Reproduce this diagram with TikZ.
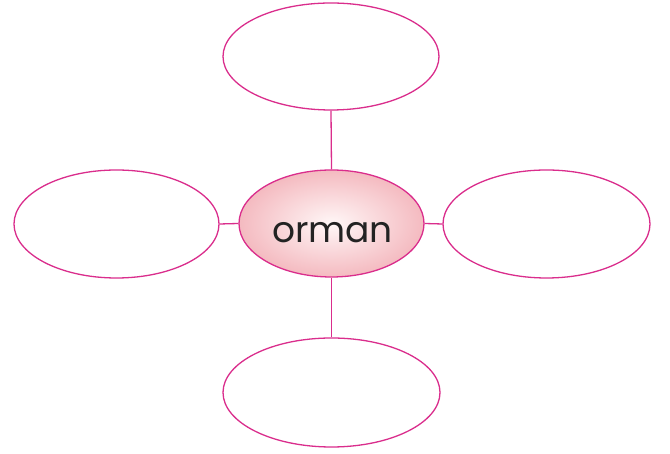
\documentclass[tikz,border=0pt]{standalone}
\usepackage{fontspec}
\setmainfont{Poppins}
\usetikzlibrary{shapes.geometric}
\definecolor{linepink}{RGB}{218,45,140}
\definecolor{fillout}{RGB}{244,186,192}
\definecolor{fillin}{RGB}{255,247,247}
\definecolor{txt}{RGB}{35,35,35}
\tikzset{
  bubble/.style={ellipse, draw=linepink, line width=1.3pt, fill=white, inner sep=0pt},
  hub/.style={ellipse, draw=linepink, line width=1.3pt, inner sep=0pt,
    inner color=fillin, outer color=fillout},
  link/.style={draw=linepink, line width=1.3pt},
  hubtext/.style={inner sep=0pt, text=txt, font=\fontsize{36}{40}\selectfont}
}
\begin{document}
\begin{tikzpicture}[x=1pt,y=1pt]
\useasboundingbox (0,0) rectangle (670,454);
\node[hub, minimum width=185pt, minimum height=107pt] (c) at (331.5,230.5) {};
\node[hubtext] (ct) at ([xshift=1pt,yshift=-9pt]c.center) {orman};
\node[bubble, minimum width=216pt, minimum height=107pt] (t) at (331,397.5) {};
\node[bubble, minimum width=205pt, minimum height=108pt] (l) at (116.5,230) {};
\node[bubble, minimum width=207pt, minimum height=108pt] (r) at (546.5,230) {};
\node[bubble, minimum width=217pt, minimum height=109pt] (b) at (331.5,61.5) {};
\draw[link] (t.south) -- (c.north);
\draw[link] (l.east) -- (c.west);
\draw[link] (c.east) -- (r.west);
\draw[link] (c.south) -- (b.north);
\end{tikzpicture}
\end{document}
